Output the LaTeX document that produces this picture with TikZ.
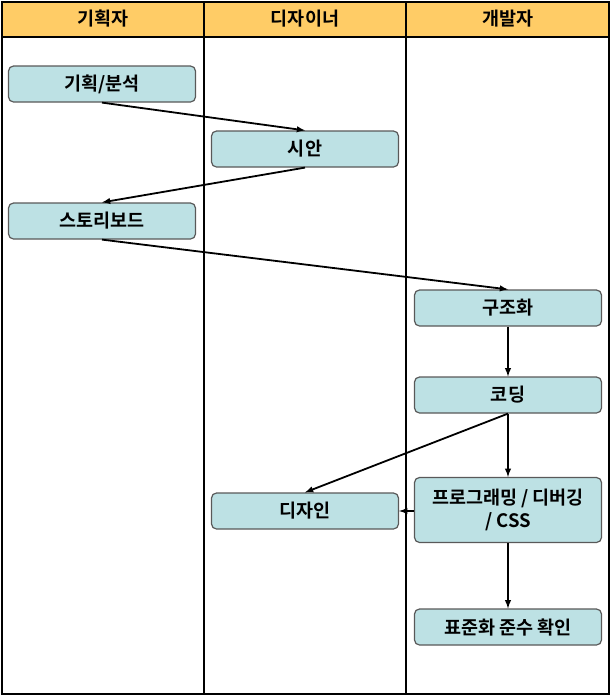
\documentclass[tikz,border=0pt]{standalone}
\usepackage{fontspec}
\setmainfont{Noto Sans CJK KR}[BoldFont={* Bold}]
\definecolor{hdr}{HTML}{FFCC66}
\definecolor{boxc}{HTML}{BDE1E4}
\begin{document}
\begin{tikzpicture}[x=1pt, y=-1pt, font=\fontsize{18.5}{23}\selectfont\bfseries]
			\tikzset{n/.style={draw=black!65, fill=boxc, rounded corners=5pt, line width=1.2pt, minimum width=187pt, minimum height=36pt, align=center, inner sep=2pt},
			f/.style={->, >=latex, line width=1.8pt},
			lane/.style={line width=2.2pt}};

			\useasboundingbox (0,0) rectangle (612,697);
			\fill[hdr] (2,2) rectangle (609,37);
			\draw[lane] (2,2) rectangle (609,694);
			\draw[lane] (2,37) -- (609,37);
			\draw[lane] (204,2) -- (204,694);
			\draw[lane] (406,2) -- (406,694);

			\node (h1) at (103,19) {기획자};
			\node (h2) at (305,19) {디자이너};
			\node (h3) at (508,19) {개발자};

			\node[n] (plan) at (102,84) {기획/분석};
			\node[n] (draft) at (305,149) {시안};
			\node[n] (story) at (102,221) {스토리보드};
			\node[n] (struct) at (508,308) {구조화};
			\node[n] (code) at (508,395) {코딩};
			\node[n] (design) at (305,511) {디자인};
			\node[n, minimum height=65pt] (prog) at (508,510) {프로그래밍 / 디버깅\\/ CSS};
			\node[n] (std) at (508,627) {표준화 준수 확인};

			\draw[f] (plan.south) to (draft.north);
			\draw[f] (draft.south) to (story.north);
			\draw[f] (story.south) to (struct.north);
			\draw[f] (struct) to (code);
			\draw[f] (code) to (prog);
			\draw[f] (code.south) to (design.north);
			\draw[f] (prog.west |- design.east) to (design.east);
			\draw[f] (prog) to (std);
		\end{tikzpicture}
\end{document}
